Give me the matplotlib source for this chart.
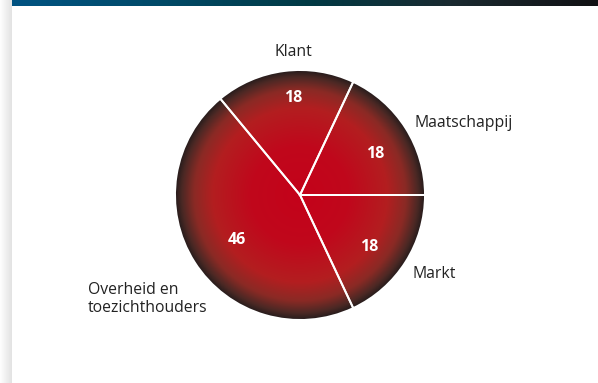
import numpy as np
import matplotlib
matplotlib.use("Agg")
import matplotlib.pyplot as plt
from matplotlib.colors import LinearSegmentedColormap
from matplotlib.patches import Circle

# data
labels = ["Maatschappij", "Klant", "Overheid en\ntoezichthouders", "Markt"]
values = [18, 18, 46, 18]

plt.rcParams['font.family'] = ['Open Sans', 'DejaVu Sans']

W, H = 598, 383
fig = plt.figure(figsize=(W / 100, H / 100), dpi=100)
ax = fig.add_axes([0, 0, 1, 1])
ax.set_xlim(0, W)
ax.set_ylim(0, H)
ax.axis('off')

cx, cy, R = 300, H - 195, 125

# radial gradient fill, clipped to the circle
cmap = LinearSegmentedColormap.from_list(
    "rad", [(0.0, "#c4021a"), (0.4, "#c0081c"), (0.7, "#b31e20"),
            (0.85, "#8a2a25"), (0.95, "#4a2824"), (1.0, "#261c1c")])
n = 400
gx, gy = np.meshgrid(np.linspace(-1, 1, n), np.linspace(-1, 1, n))
rr = np.clip(np.sqrt(gx ** 2 + gy ** 2), 0, 1)
img = ax.imshow(rr, cmap=cmap, vmin=0, vmax=1,
                extent=[cx - R, cx + R, cy - R, cy + R], origin='lower',
                interpolation='bilinear', zorder=1)
clip = Circle((cx, cy), R, transform=ax.transData)
img.set_clip_path(clip)

wedges, _ = ax.pie(values, startangle=0, counterclock=True,
                   center=(cx, cy), radius=R,
                   wedgeprops=dict(facecolor='none', edgecolor='white', linewidth=1.4))
for w in wedges:
    w.set_zorder(2)
ax.add_patch(Circle((cx, cy), R + 0.8, facecolor='none', edgecolor='white', linewidth=1.2, zorder=3))
ax.set_xlim(0, W)
ax.set_ylim(0, H)
ax.set_aspect('auto')

# category labels
label_pos = [(415, H - 123, 'left'), (293, H - 52, 'center'),
             (88, H - 299, 'left'), (413, H - 274, 'left')]
for lab, (x, y, ha) in zip(labels, label_pos):
    ax.text(x, y, lab, ha=ha, va='center', fontsize=11.3, color='#222222',
            linespacing=1.25, zorder=4)

# value labels
value_pos = [(375, H - 154), (293, H - 98), (237, H - 240), (369, H - 247)]
for v, (x, y) in zip(values, value_pos):
    ax.text(x, y, str(v), ha='center', va='center', fontsize=11.5,
            fontweight='bold', color='white', zorder=4)

# top banner gradient
bar = fig.add_axes([12 / W, 1 - 6 / H, 1 - 12 / W, 6 / H])
bar.axis('off')
bcmap = LinearSegmentedColormap.from_list(
    "bar", ["#005382", "#004a68", "#003a45", "#1a2a30", "#111114"])
bar.imshow(np.linspace(0, 1, 256)[None, :], cmap=bcmap, aspect='auto',
           extent=[0, 1, 0, 1])

# left shadow strip
sh = fig.add_axes([0, 0, 12 / W, 1])
sh.axis('off')
scmap = LinearSegmentedColormap.from_list("sh", ["#ffffff", "#f0f0f0", "#e2e2e2"])
sh.imshow(np.linspace(0, 1, 64)[None, :], cmap=scmap, aspect='auto',
          extent=[0, 1, 0, 1])

fig.savefig("out.png", dpi=100)
